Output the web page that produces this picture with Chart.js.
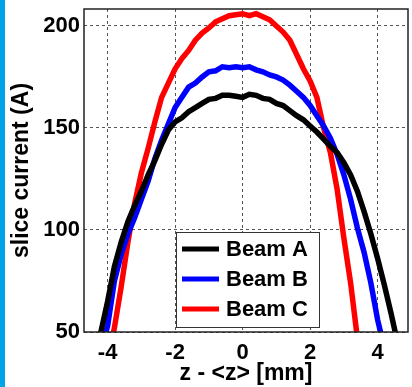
<!DOCTYPE html>
<html>
<head>
<meta charset="utf-8">
<script src="https://cdn.jsdelivr.net/npm/chart.js@4.4.1/dist/chart.umd.min.js"></script>
<style>
  html, body { margin: 0; padding: 0; background: #fff; }
  #wrap { position: relative; width: 412px; height: 387px; }
  #strip { position: absolute; left: 0; top: 0; width: 5px; height: 387px; background: #00a3e4; }
  canvas { position: absolute; left: 0; top: 0; }
</style>
</head>
<body>
<div id="wrap">
  <canvas id="sliceChart" width="412" height="387"></canvas>
  <div id="strip"></div>
</div>
<script>
// z - <z> positions in mm
var zPos = [-4.6,-4.4,-4.2,-4.0,-3.8,-3.6,-3.4,-3.2,-3.0,-2.8,-2.6,-2.4,-2.2,-2.0,-1.8,-1.6,-1.4,-1.2,-1.0,-0.8,-0.6,-0.4,-0.2,0.0,
            0.2,0.4,0.6,0.8,1.0,1.2,1.4,1.6,1.8,2.0,2.2,2.4,2.6,2.8,3.0,3.2,3.4,3.6,3.8,4.0,4.2,4.4,4.6,4.8];
// slice current in A for each beam
var beamA = [35,43,50,65,82,94,104,112,119,127,134,142,149,153,155,158,160,162,164,164.5,166,166,165.5,165,
             166.5,166,164.5,164,162,161,158.5,156,154,151,148,144.5,141,138,133,127,119,109,98,86,73,59,44,32];
var beamB = [22,32,41,53,75,88,98,106,115,124,135,144,152,160,165,170,172,175,177.5,178,180,179.5,180,179.5,
             180,178.5,177.5,176,175,173.5,171,168,165,161,156,151,145,137,127,115,101,89,74,56,42,30,20,12];
var beamC = [10,18,25,36,52,72,94,113,128,140,153,165,172,179,184,188,193,196.5,199,202,203.5,205,205.5,206,
             205,206,204.5,203,200,197,193,186,179,173,165,150,138,120,96,74,47,30,18,10,5,2,1,0];
var beamNames = ["Beam A","Beam B","Beam C"];
var beamColors = ["#000000","#0000ff","#ff0000"];

var xTicks = [-4,-2,0,2,4];
var yTicks = [50,100,150,200];

function points(vals) {
  return zPos.map(function (z, i) { return { x: z, y: vals[i] }; });
}

Chart.defaults.font.family = 'Arial, "Liberation Sans", sans-serif';
Chart.defaults.font.weight = 'bold';
Chart.defaults.color = '#000';

// frame round the plot plus the boxed legend inside it
var framePlugin = {
  id: 'frame',
  afterDatasetsDraw: function (chart) {
    var ctx = chart.ctx, a = chart.chartArea;
    ctx.save();
    ctx.strokeStyle = '#222';
    ctx.lineWidth = 1.5;
    ctx.strokeRect(a.left, a.top, a.right - a.left, a.bottom - a.top);

    var bx = 176, by = 232, bw = 143, bh = 95;
    ctx.fillStyle = '#fff';
    ctx.fillRect(bx, by, bw, bh);
    ctx.lineWidth = 1;
    ctx.strokeStyle = '#333';
    ctx.strokeRect(bx + 0.5, by + 0.5, bw, bh);
    ctx.font = 'bold 22px Arial, "Liberation Sans", sans-serif';
    ctx.textBaseline = 'middle';
    ctx.fillStyle = '#000';
    chart.data.datasets.forEach(function (ds, i) {
      var y = by + 17 + i * 30;
      ctx.strokeStyle = ds.borderColor;
      ctx.lineWidth = 5;
      ctx.beginPath();
      ctx.moveTo(182, y);
      ctx.lineTo(219, y);
      ctx.stroke();
      ctx.fillText(ds.label, 226, y + 1);
    });
    ctx.restore();
  }
};

var gridStyle = { color: '#555', lineWidth: 1, drawTicks: false };

new Chart(document.getElementById("sliceChart"), {
  type: 'line',
  data: {
    datasets: beamNames.map(function (name, i) {
      return {
        label: name,
        data: points([beamA, beamB, beamC][i]),
        borderColor: beamColors[i],
        backgroundColor: beamColors[i],
        borderWidth: 5.5,
        pointRadius: 0,
        tension: 0,
        clip: 0
      };
    })
  },
  options: {
    responsive: false,
    animation: false,
    events: [],
    layout: { padding: { left: 0, top: 9, right: 4, bottom: 0 } },
    plugins: { legend: { display: false }, tooltip: { enabled: false } },
    scales: {
      x: {
        type: 'linear',
        min: -4.7,
        max: 4.9,
        afterBuildTicks: function (s) { s.ticks = xTicks.map(function (v) { return { value: v }; }); },
        ticks: { font: { size: 22 }, padding: 8, maxRotation: 0 },
        grid: gridStyle,
        border: { display: false, dash: [3, 3] },
        title: { display: true, text: 'z - <z> [mm]', font: { size: 23 }, padding: { top: 5, bottom: 0 } },
        afterFit: function (s) { s.height = 55; s.paddingLeft = 0; s.paddingRight = 0; }
      },
      y: {
        min: 50,
        max: 208.3,
        afterBuildTicks: function (s) { s.ticks = yTicks.map(function (v) { return { value: v }; }); },
        ticks: { font: { size: 22 }, padding: 4 },
        grid: gridStyle,
        border: { display: false, dash: [3, 3] },
        title: { display: true, text: 'slice current (A)', font: { size: 23 }, padding: { top: 8, bottom: 0 } },
        afterFit: function (s) { s.width = 84; s.paddingTop = 0; s.paddingBottom = 0; }
      }
    }
  },
  plugins: [framePlugin]
});
</script>
</body>
</html>
